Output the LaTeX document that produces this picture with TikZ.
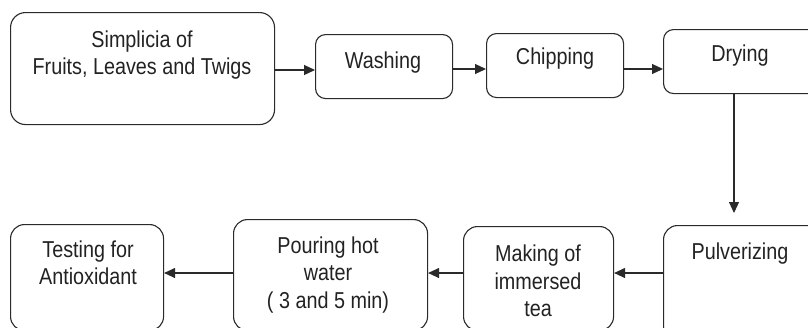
\documentclass[tikz,border=0pt]{standalone}
\usepackage{fontspec}
\setmainfont{Liberation Sans}[FakeStretch=0.86]
\usetikzlibrary{arrows.meta}
\definecolor{ink}{HTML}{222222}
\definecolor{edge}{HTML}{2A2A2A}
\tikzset{
  box/.style={draw=edge, line width=1.1pt, rectangle, rounded corners=10pt, inner sep=0pt, anchor=north west},
  bigbox/.style={box, rounded corners=15pt},
  lbl/.style={text=ink, align=center, inner sep=0pt, font=\fontsize{23}{27.5}\selectfont},
  arr/.style={draw=edge, line width=1.1pt, -{Triangle[length=11pt,width=10pt]}}
}
\begin{document}
\begin{tikzpicture}[x=1pt,y=-1pt]
\useasboundingbox (0,0) rectangle (808,327);
\clip (0,0) rectangle (808,327);
% boxes
\node[bigbox, minimum width=264pt, minimum height=112pt] (s) at (10,12) {};
\node[box, minimum width=137pt, minimum height=64pt] (w) at (315,34) {};
\node[box, minimum width=137pt, minimum height=64pt] (c) at (486,33) {};
\node[box, minimum width=170pt, minimum height=64pt] (d) at (663,29) {};
\node[box, minimum width=170pt, minimum height=115pt, rounded corners=14pt] (pu) at (663,225) {};
\node[box, minimum width=150pt, minimum height=104pt, rounded corners=14pt] (m) at (463,226) {};
\node[box, minimum width=194pt, minimum height=111pt, rounded corners=14pt] (po) at (233,219) {};
\node[box, minimum width=153pt, minimum height=106pt, rounded corners=14pt] (t) at (10,224) {};
% texts
\node[lbl] (st) at (142,55) {Simplicia of\\Fruits, Leaves and Twigs};
\node[lbl] (wt) at (383,63) {Washing};
\node[lbl] (ct) at (555,59) {Chipping};
\node[lbl] (dt) at (740,56) {Drying};
\node[lbl] (put) at (740,254) {Pulverizing};
\node[lbl] (mt) at (538,281) {Making of\\immersed\\tea};
\node[lbl] (pot) at (328,275) {Pouring hot\\water\\( 3 and 5 min)};
\node[lbl] (tt) at (88,263) {Testing for\\Antioxidant};
% connector rows
\coordinate (r1) at (0,70);
\coordinate (r2) at (0,69);
\coordinate (r3) at (0,273);
\coordinate (vx) at (734,0);
% connectors
\draw[arr] (s.east |- r1) -- (w.west |- r1);
\draw[arr] (w.east |- r2) -- (c.west |- r2);
\draw[arr] (c.east |- r2) -- (d.west |- r2);
\draw[arr, shorten >=12pt] (d.south -| vx) -- (pu.north -| vx);
\draw[arr] (pu.west |- r3) -- (m.east |- r3);
\draw[arr] (m.west |- r3) -- (po.east |- r3);
\draw[arr] (po.west |- r3) -- (t.east |- r3);
\end{tikzpicture}
\end{document}
